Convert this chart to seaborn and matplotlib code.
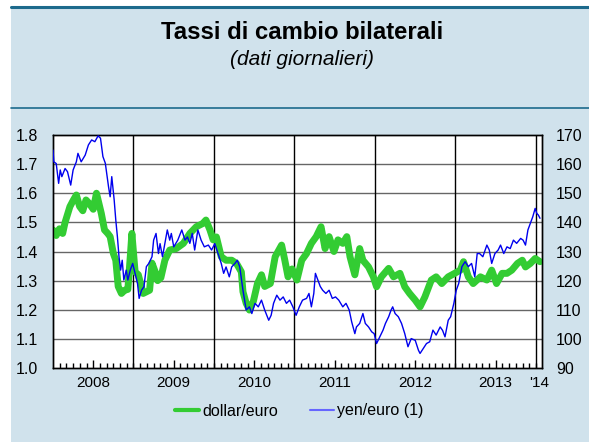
import numpy as np
import pandas as pd
import matplotlib
matplotlib.use("Agg")
import matplotlib.pyplot as plt
from matplotlib.patches import Rectangle
from matplotlib.lines import Line2D
import seaborn as sns

# === Data (time in fractional years) ===
usd_t = [2008.00, 2008.04, 2008.08, 2008.12, 2008.15, 2008.21, 2008.25, 2008.29, 2008.33, 2008.37,
         2008.41, 2008.45, 2008.50, 2008.54, 2008.60, 2008.64, 2008.68, 2008.71, 2008.75, 2008.78,
         2008.81, 2008.85, 2008.89, 2008.93, 2008.96, 2008.98, 2009.02, 2009.06, 2009.12, 2009.20,
         2009.23, 2009.27, 2009.30, 2009.34, 2009.39, 2009.45, 2009.53, 2009.62, 2009.70, 2009.78,
         2009.86, 2009.90, 2009.95, 2009.99, 2010.03, 2010.09, 2010.15, 2010.22, 2010.28, 2010.34,
         2010.36, 2010.40, 2010.44, 2010.49, 2010.54, 2010.59, 2010.63, 2010.70, 2010.76, 2010.84,
         2010.88, 2010.92, 2010.97, 2011.03, 2011.09, 2011.15, 2011.21, 2011.27, 2011.33, 2011.38,
         2011.43, 2011.49, 2011.54, 2011.60, 2011.65, 2011.69, 2011.75, 2011.81, 2011.85, 2011.92,
         2011.98, 2012.02, 2012.08, 2012.17, 2012.23, 2012.31, 2012.37, 2012.43, 2012.50, 2012.56,
         2012.62, 2012.70, 2012.76, 2012.83, 2012.91, 2012.99, 2013.06, 2013.10, 2013.16, 2013.22,
         2013.31, 2013.39, 2013.45, 2013.51, 2013.58, 2013.64, 2013.70, 2013.77, 2013.83, 2013.87,
         2013.93, 2013.99, 2014.05]
usd_v = [1.474, 1.455, 1.478, 1.462, 1.500, 1.554, 1.575, 1.594, 1.555, 1.540,
         1.577, 1.565, 1.545, 1.600, 1.531, 1.474, 1.462, 1.451, 1.393, 1.370,
         1.280, 1.256, 1.267, 1.270, 1.382, 1.462, 1.330, 1.320, 1.256, 1.267,
         1.360, 1.330, 1.300, 1.310, 1.370, 1.405, 1.410, 1.428, 1.462, 1.485,
         1.496, 1.508, 1.474, 1.440, 1.450, 1.382, 1.370, 1.370, 1.359, 1.330,
         1.262, 1.222, 1.199, 1.230, 1.290, 1.320, 1.280, 1.290, 1.382, 1.422,
         1.370, 1.313, 1.340, 1.302, 1.370, 1.393, 1.428, 1.451, 1.485, 1.410,
         1.451, 1.400, 1.440, 1.428, 1.451, 1.382, 1.320, 1.410, 1.370, 1.347,
         1.313, 1.279, 1.313, 1.342, 1.313, 1.325, 1.279, 1.256, 1.233, 1.210,
         1.244, 1.302, 1.313, 1.290, 1.313, 1.325, 1.336, 1.365, 1.313, 1.290,
         1.313, 1.302, 1.336, 1.290, 1.325, 1.325, 1.336, 1.359, 1.370, 1.347,
         1.359, 1.376, 1.365]

jpy_t = [2008.00, 2008.01, 2008.04, 2008.07, 2008.09, 2008.11, 2008.15, 2008.18, 2008.22, 2008.25,
         2008.29, 2008.31, 2008.35, 2008.40, 2008.44, 2008.48, 2008.52, 2008.56, 2008.59, 2008.62,
         2008.65, 2008.69, 2008.71, 2008.73, 2008.76, 2008.78, 2008.80, 2008.82, 2008.84, 2008.86,
         2008.88, 2008.91, 2008.93, 2008.96, 2008.99, 2009.02, 2009.05, 2009.07, 2009.10, 2009.13,
         2009.16, 2009.19, 2009.23, 2009.25, 2009.28, 2009.31, 2009.33, 2009.36, 2009.39, 2009.42,
         2009.45, 2009.47, 2009.50, 2009.55, 2009.60, 2009.64, 2009.67, 2009.70, 2009.73, 2009.76,
         2009.80, 2009.84, 2009.88, 2009.93, 2009.97, 2010.01, 2010.05, 2010.09, 2010.12, 2010.15,
         2010.19, 2010.22, 2010.26, 2010.29, 2010.32, 2010.36, 2010.40, 2010.44, 2010.47, 2010.51,
         2010.55, 2010.59, 2010.63, 2010.68, 2010.71, 2010.74, 2010.78, 2010.82, 2010.86, 2010.90,
         2010.94, 2010.98, 2011.02, 2011.06, 2011.10, 2011.15, 2011.18, 2011.21, 2011.24, 2011.26,
         2011.29, 2011.32, 2011.35, 2011.39, 2011.43, 2011.47, 2011.51, 2011.55, 2011.60, 2011.64,
         2011.68, 2011.71, 2011.75, 2011.77, 2011.81, 2011.85, 2011.88, 2011.92, 2011.96, 2011.99,
         2012.02, 2012.06, 2012.10, 2012.13, 2012.17, 2012.20, 2012.22, 2012.25, 2012.29, 2012.33,
         2012.37, 2012.41, 2012.45, 2012.50, 2012.54, 2012.56, 2012.60, 2012.64, 2012.68, 2012.72,
         2012.76, 2012.81, 2012.84, 2012.87, 2012.91, 2012.94, 2012.98, 2013.01, 2013.04, 2013.08,
         2013.12, 2013.16, 2013.20, 2013.24, 2013.27, 2013.30, 2013.34, 2013.39, 2013.42, 2013.45,
         2013.49, 2013.53, 2013.56, 2013.60, 2013.64, 2013.68, 2013.72, 2013.76, 2013.81, 2013.84,
         2013.87, 2013.90, 2013.93, 2013.96, 2013.99, 2014.01, 2014.03, 2014.05]
jpy_v = [164.8, 160.8, 160.2, 153.4, 158.0, 155.7, 158.5, 157.4, 152.8, 158.0,
         160.8, 163.7, 160.8, 163.1, 166.6, 168.3, 167.7, 169.7, 168.9, 162.6,
         160.3, 152.2, 148.8, 155.7, 147.7, 140.8, 135.1, 128.2, 123.6, 127.0,
         120.2, 123.6, 120.2, 123.6, 125.9, 122.5, 119.0, 113.9, 116.7, 117.9,
         124.8, 125.9, 128.2, 133.9, 136.2, 129.3, 132.7, 128.2, 132.7, 137.4,
         133.9, 136.2, 131.6, 133.9, 137.4, 133.9, 135.0, 132.8, 136.2, 130.5,
         137.4, 133.9, 131.6, 132.2, 130.5, 132.7, 129.3, 125.9, 122.5, 124.7,
         121.3, 124.7, 125.9, 127.0, 124.7, 116.7, 109.9, 111.0, 108.7, 112.2,
         111.0, 113.3, 109.9, 106.4, 108.1, 112.2, 115.0, 113.3, 114.4, 112.2,
         113.3, 111.0, 108.1, 111.0, 113.3, 113.9, 115.6, 111.0, 115.6, 122.5,
         120.2, 118.0, 116.7, 115.6, 116.7, 113.9, 114.4, 113.3, 111.0, 112.2,
         109.9, 105.9, 101.8, 104.1, 105.3, 108.7, 105.3, 104.1, 102.4, 101.8,
         98.4, 100.7, 103.0, 105.3, 107.6, 109.9, 111.0, 108.7, 107.6, 105.3,
         101.8, 97.3, 100.1, 99.5, 96.1, 95.0, 96.7, 98.4, 99.0, 103.0,
         101.3, 104.1, 102.9, 100.7, 106.4, 107.6, 112.2, 116.7, 119.0, 124.8,
         126.5, 124.8, 125.9, 121.3, 129.3, 129.3, 128.2, 132.2, 130.5, 125.9,
         129.3, 130.5, 132.2, 129.3, 131.6, 131.0, 133.9, 132.8, 134.5, 133.9,
         132.2, 137.4, 139.6, 141.9, 144.8, 143.1, 142.5, 141.4]

years = [2008, 2009, 2010, 2011, 2012, 2013]
year_labels = ["2008", "2009", "2010", "2011", "2012", "2013", "'14"]
left_ticks = [1.0, 1.1, 1.2, 1.3, 1.4, 1.5, 1.6, 1.7, 1.8]
right_ticks = [90, 100, 110, 120, 130, 140, 150, 160, 170]

usd = pd.DataFrame({"t": usd_t, "v": usd_v})
jpy = pd.DataFrame({"t": jpy_t, "v": jpy_v})

GREEN = "#33cc33"
BLUE = "#0000ee"
PANEL = "#d0e2ec"
LINE = "#1d6a8c"

sns.set_style("white")
plt.rcParams["font.family"] = ["Liberation Sans", "DejaVu Sans"]
plt.rcParams["text.color"] = "black"
plt.rcParams["xtick.color"] = "black"
plt.rcParams["ytick.color"] = "black"

fig = plt.figure(figsize=(5.89, 4.42), dpi=100)
fig.patch.set_facecolor("white")

# panel background and rules
fig.patches.append(Rectangle((11 / 589, 0), 1, 1 - 6 / 442, transform=fig.transFigure,
                             facecolor=PANEL, edgecolor="none", zorder=-10))
fig.add_artist(Line2D([11 / 589, 1], [1 - 6.5 / 442] * 2, color=LINE, lw=2.2))
fig.add_artist(Line2D([11 / 589, 1], [1 - 108 / 442] * 2, color=LINE, lw=1.2))

fig.text(302.5 / 589, 1 - 39.3 / 442, "Tassi di cambio bilaterali", ha="center", va="baseline",
         fontsize=17.2, fontweight="bold")
fig.text(301.5 / 589, 1 - 65 / 442, "(dati giornalieri)", ha="center", va="baseline",
         fontsize=15, style="italic")

ax = fig.add_axes([53 / 589, 1 - 368 / 442, (542 - 53) / 589, (368 - 135) / 442])
ax.set_facecolor("white")
ax2 = ax.twinx()

sns.lineplot(data=usd, x="t", y="v", ax=ax, color=GREEN, lw=5.0, zorder=3)
sns.lineplot(data=jpy, x="t", y="v", ax=ax2, color=BLUE, lw=1.0, zorder=4)

ax.set_xlim(2008.0, 2014.075)
ax.set_ylim(1.0, 1.8)
ax2.set_ylim(90, 170)
ax.set_xlabel("")
ax.set_ylabel("")
ax2.set_ylabel("")

# horizontal grid and year separators
for y in left_ticks[1:-1]:
    ax.axhline(y, color="#666666", lw=1.0, zorder=1)
for yr in years[1:] + [2014]:
    ax.axvline(yr, color="black", lw=1.0, zorder=2)

ax.set_yticks(left_ticks)
ax.set_yticklabels([f"{v:.1f}" for v in left_ticks])
ax2.set_yticks(right_ticks)
ax2.set_yticklabels([str(v) for v in right_ticks])
ax.tick_params(axis="y", length=0, pad=11, labelsize=11.5)
ax2.tick_params(axis="y", length=0, pad=10, labelsize=11.5)

ax.set_xticks([y + 0.5 for y in years] + [2014.035])
ax.set_xticklabels(year_labels)
ax.set_xticks([2008 + m / 12 for m in range(1, 73) if m % 12 != 6], minor=True)
ax.tick_params(axis="x", which="major", direction="in", length=6, width=1, pad=6,
               labelsize=11, bottom=True)
ax.tick_params(axis="x", which="minor", direction="in", length=3.5, width=1, bottom=True)
ax.xaxis.get_major_ticks()[-1].tick1line.set_visible(False)

for a in (ax, ax2):
    for s in a.spines.values():
        s.set_color("black")
        s.set_linewidth(1.0)
        s.set_visible(True)

handles = [Line2D([], [], color=GREEN, lw=3), Line2D([], [], color="#6666ff", lw=1.5)]
fig.legend(handles, ["dollar/euro", "yen/euro (1)"], loc="center", ncol=2,
           bbox_to_anchor=(299 / 589, 1 - 411 / 442), frameon=False, fontsize=11.5,
           handlelength=1.5, handletextpad=0.2, columnspacing=2.0)

fig.savefig("out.png", dpi=100, facecolor="white")
